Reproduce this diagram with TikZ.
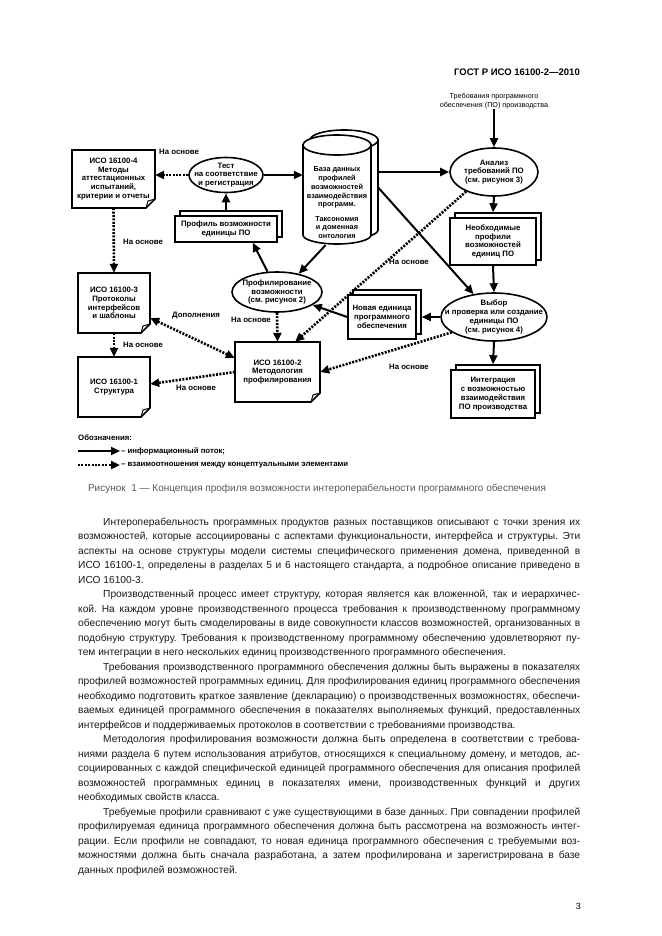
\documentclass[tikz,border=0pt]{standalone}
\usepackage{fontspec}
\setmainfont{Liberation Sans}
\usetikzlibrary{arrows.meta,shapes.geometric,shadows,calc}
\frenchspacing
\tikzset{
 dfont/.style={font=\fontsize{7.8}{8.8}\selectfont\bfseries},
 lab/.style={font=\fontsize{7.8}{9}\selectfont\bfseries, inner sep=0pt},
 ln/.style={line width=1.6pt},
 flow/.style={line width=2pt, -{Triangle[length=9pt,width=8pt]}},
 rel/.style={line width=2.6pt, dash pattern=on 2pt off 1.4pt, -{Triangle[length=9pt,width=8pt]}},
 relboth/.style={line width=2.6pt, dash pattern=on 2pt off 1.4pt, {Triangle[length=9pt,width=8pt]}-{Triangle[length=9pt,width=8pt]}},
 stackbox/.style={draw, line width=1.5pt, fill=white, inner sep=0pt, align=center, dfont,
   copy shadow={shadow xshift=5pt, shadow yshift=5pt}},
 ell/.style={draw, ellipse, line width=1.6pt, fill=white, inner sep=0pt},
 etext/.style={dfont, align=center, inner sep=0pt},
 body/.style={font=\fontsize{10.2}{12}\selectfont\frenchspacing, inner sep=0pt, text=black!90},
}
\newcommand\docbox[6]{%
 \draw[ln, fill=white] (#2,#3) -- (#4,#3) -- (#4,{#5-9}) -- ({#4-9},#5) -- (#2,#5) -- cycle;
 \draw[line width=1pt] ({#4-9},#5) -- ({#4-7},{#5-7}) -- (#4,{#5-9});
 \node[dfont, align=center, inner sep=0pt, minimum width={#4-#2}, minimum height={#5-#3}] (#1) at ({(#2+#4)/2},{(#3+#5)/2}) {#6};}
\newcommand\bodyj[3]{\node[body, anchor=base west] (#1) at (78,#2) {\makebox[502pt][s]{#3}};}
\newcommand\bodyi[3]{\node[body, anchor=base west] (#1) at (103,#2) {\makebox[477pt][s]{#3}};}
\newcommand\bodyl[3]{\node[body, anchor=base west] (#1) at (78,#2) {#3};}
\begin{document}
\begin{tikzpicture}[x=1pt,y=-1pt]
\fill[white] (0,0) rectangle (661,936);
\useasboundingbox (0,0) rectangle (661,936);

% header
\node[font=\fontsize{9.5}{11}\selectfont\bfseries, anchor=base east, inner sep=0pt] (hdr) at (580,76) {ГОСТ Р ИСО 16100-2—2010};

% requirements input
\node[font=\fontsize{7.2}{8.6}\selectfont, align=center, inner sep=0pt] (req) at (494,101) {Требования программного\\обеспечения (ПО) производства};

% ellipses
\node[ell, minimum width=88pt, minimum height=48pt] (anal) at (494,172) {};
\node[etext] (analt) at (anal) {Анализ\\требований ПО\\(см. рисунок 3)};
\node[ell, minimum width=106pt, minimum height=48pt] (vyb) at (494,317) {};
\node[etext] (vybt) at (vyb) {Выбор\\и проверка или создание\\единицы ПО\\(см. рисунок 4)};
\node[ell, minimum width=74pt, minimum height=35pt] (tst) at (226,175) {};
\node[etext] (tstt) at (tst) {Тест\\на соответствие\\и регистрация};
\node[ell, minimum width=90pt, minimum height=40pt] (profil) at (277,292) {};
\node[etext] (profilt) at (profil) {Профилирование\\возможности\\(см. рисунок 2)};

% stacked boxes
\node[stackbox, minimum width=102pt, minimum height=26pt] (prof) at (226,229) {Профиль возможности\\единицы ПО};
\node[stackbox, minimum width=86pt, minimum height=47pt] (need) at (493,241.5) {Необходимые\\профили\\возможностей\\единиц ПО};
\node[stackbox, minimum width=84pt, minimum height=48pt] (integ) at (493,394) {Интеграция\\с возможностью\\взаимодействия\\ПО производства};
\node[stackbox, minimum width=68pt, minimum height=44pt] (newb) at (382,317) {Новая единица\\программного\\обеспечения};

% cylinder (database)
\filldraw[ln, fill=white] (310,140) -- (310,230) arc[start angle=180, end angle=0, x radius=34, y radius=9] -- (378,140) -- cycle;
\filldraw[ln, fill=white] (344,140) ellipse[x radius=34, y radius=10];
\filldraw[ln, fill=white] (303,145) -- (303,235) arc[start angle=180, end angle=0, x radius=34, y radius=9] -- (371,145) -- cycle;
\filldraw[ln, fill=white] (337,145) ellipse[x radius=34, y radius=10];
\node[inner sep=0pt, minimum width=75pt, minimum height=115pt] (db) at (340.5,187.5) {};
\node[etext, font=\fontsize{7.3}{8.8}\selectfont\bfseries] (dbt1) at (337,187.5) {База данных\\профилей\\возможностей\\взаимодействия\\программ.};
\node[etext, font=\fontsize{7.3}{8.8}\selectfont\bfseries] (dbt2) at (337,227.5) {Таксономия\\и доменная\\онтология};

% ISO document boxes
\docbox{iso4}{72}{150}{155}{208}{ИСО 16100-4\\Методы\\аттестационных\\испытаний,\\критерии и отчеты}
\docbox{iso3}{78}{273}{150}{333}{ИСО 16100-3\\Протоколы\\интерфейсов\\и шаблоны}
\docbox{iso1}{78}{357}{150}{417}{ИСО 16100-1\\Структура}
\docbox{iso2}{235}{342}{320}{402}{ИСО 16100-2\\Методология\\профилирования}

% information flows
\draw[flow] (req.south) -- (anal.north);
\draw[flow] (anal.south) -- ([yshift=5pt]need.north);
\draw[flow] (need.south) -- (vyb.north);
\draw[flow] (vyb.south) -- ([yshift=5pt]integ.north);
\draw[flow] (anal.west -| db.east) -- (anal.west);
\draw[flow] (db.east) -- (vyb);
\draw[flow] (tst.east) -- (tst.east -| db.west);
\draw[flow] ([yshift=5pt]prof.north) -- (tst.south);
\draw[flow] (profil.115) -- ([xshift=-25pt]prof.south east);
\draw[flow] ([xshift=-15pt]db.south) -- (profil.40);
\draw[flow] (newb.west) -- (profil.-20);
\draw[flow] (vyb.west) -- ([xshift=5pt]newb.east);

% relations
\draw[rel] (tst.west) -- (tst.west -| iso4.east);
\draw[rel] (iso4.south) -- (iso3.north);
\draw[rel] (iso3.south) -- (iso1.north);
\draw[rel] (iso2.west) -- ([yshift=3pt]iso1.east);
\draw[relboth] ([yshift=-15pt]iso3.east) -- ([yshift=14pt]iso2.west);
\draw[rel] (profil.south) -- (iso2.north);
\draw[rel] (anal.215) -- ([xshift=-25pt]iso2.north east);
\draw[rel] (vyb.200) -- (iso2.east);

% labels
\node[lab, anchor=west] (lb1) at (159,152) {На основе};
\node[lab, anchor=west] (lb2) at (123,242) {На основе};
\node[lab, anchor=west] (lb3) at (123,345) {На основе};
\node[lab, anchor=west] (lb4) at (172,316) {Дополнения};
\node[lab, anchor=west] (lb5) at (176,388) {На основе};
\node[lab, anchor=east] (lb6) at (271,320) {На основе};
\node[lab] (lb7) at (409,262) {На основе};
\node[lab] (lb8) at (409,367) {На основе};

% legend
\node[lab, anchor=base west] (legt) at (78,440) {Обозначения:};
\coordinate (l1a) at (78,451); \coordinate (l1b) at (120,451);
\draw[flow] (l1a) -- (l1b);
\node[lab, anchor=west] (l1t) at (121,451) {– информационный поток;};
\coordinate (l2a) at (78,465); \coordinate (l2b) at (120,465);
\draw[rel] (l2a) -- (l2b);
\node[lab, anchor=west] (l2t) at (121,465) {– взаимоотношения между концептуальными элементами};

% caption
\node[font=\fontsize{10}{11}\selectfont, text=black!65, anchor=base, inner sep=0pt] (cap) at (317,491) {Рисунок\ \ 1 — Концепция профиля возможности интероперабельности программного обеспечения};

% body text
\bodyi{b0}{525}{Интероперабельность программных продуктов разных поставщиков описывают с точки зрения их}
\bodyj{b1}{539.5}{возможностей, которые ассоциированы с аспектами функциональности, интерфейса и структуры. Эти}
\bodyj{b2}{554}{аспекты на основе структуры модели системы специфического применения домена, приведенной в}
\bodyj{b3}{568.5}{ИСО 16100-1, определены в разделах 5 и 6 настоящего стандарта, а подробное описание приведено в}
\bodyl{b4}{583}{ИСО 16100-3.}
\bodyi{b5}{597.5}{Производственный процесс имеет структуру, которая является как вложенной, так и иерархичес-}
\bodyj{b6}{612}{кой. На каждом уровне производственного процесса требования к производственному программному}
\bodyj{b7}{626.5}{обеспечению могут быть смоделированы в виде совокупности классов возможностей, организованных в}
\bodyj{b8}{641}{подобную структуру. Требования к производственному программному обеспечению удовлетворяют пу-}
\bodyl{b9}{655.5}{тем интеграции в него нескольких единиц производственного программного обеспечения.}
\bodyi{b10}{670}{Требования производственного программного обеспечения должны быть выражены в показателях}
\bodyj{b11}{684.5}{профилей возможностей программных единиц. Для профилирования единиц программного обеспечения}
\bodyj{b12}{699}{необходимо подготовить краткое заявление (декларацию) о производственных возможностях, обеспечи-}
\bodyj{b13}{713.5}{ваемых единицей программного обеспечения в показателях выполняемых функций, предоставленных}
\bodyl{b14}{728}{интерфейсов и поддерживаемых протоколов в соответствии с требованиями производства.}
\bodyi{b15}{742.5}{Методология профилирования возможности должна быть определена в соответствии с требова-}
\bodyj{b16}{757}{ниями раздела 6 путем использования атрибутов, относящихся к специальному домену, и методов, ас-}
\bodyj{b17}{771.5}{социированных с каждой специфической единицей программного обеспечения для описания профилей}
\bodyj{b18}{786}{возможностей программных единиц в показателях имени, производственных функций и других}
\bodyl{b19}{800.5}{необходимых свойств класса.}
\bodyi{b20}{815}{Требуемые профили сравнивают с уже существующими в базе данных. При совпадении профилей}
\bodyj{b21}{829.5}{профилируемая единица программного обеспечения должна быть рассмотрена на возможность интег-}
\bodyj{b22}{844}{рации. Если профили не совпадают, то новая единица программного обеспечения с требуемыми воз-}
\bodyj{b23}{858.5}{можностями должна быть сначала разработана, а затем профилирована и зарегистрирована в базе}
\bodyl{b24}{873}{данных профилей возможностей.}

\node[font=\fontsize{9}{10}\selectfont, anchor=base east, inner sep=0pt] (pg) at (581,909) {3};
\end{tikzpicture}
\end{document}
